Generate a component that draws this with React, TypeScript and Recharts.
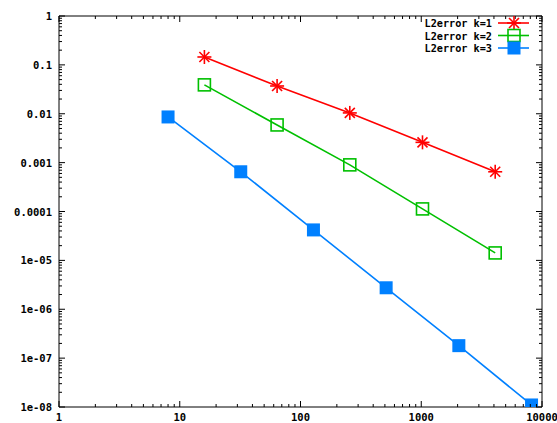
import { LineChart, Line, XAxis, YAxis, ReferenceArea, Legend } from "recharts"

const seriesNames = ["L2error k=1", "L2error k=2", "L2error k=3"]
const seriesColors = ["#ff0000", "#00c000", "#0080ff"]

const k1N = [16, 64, 256, 1024, 4096]
const k1Err = [0.145, 0.037, 0.0104, 0.0026, 0.00065]
const k2N = [16, 64, 256, 1024, 4096]
const k2Err = [0.039, 0.0059, 0.0009, 0.000113, 0.0000142]
const k3N = [8, 32, 128, 512, 2048, 8192]
const k3Err = [0.0086, 0.00065, 0.000042, 0.00000275, 0.00000018, 0.000000011]

const xTickValues = [1, 10, 100, 1000, 10000]
const xTickLabels = ["1", "10", "100", "1000", "10000"]
const yTickValues = [1e-8, 1e-7, 1e-6, 1e-5, 1e-4, 1e-3, 1e-2, 1e-1, 1]
const yTickLabels = ["1e-08", "1e-07", "1e-06", "1e-05", "0.0001", "0.001", "0.01", "0.1", "1"]

const FONT = "'DejaVu Sans Mono', monospace"
const PLOT = { left: 59, right: 542, top: 16, bottom: 407 }

const toRows = (xs: number[], ys: number[]) => xs.map((x, i) => ({ x, y: ys[i] }))
const series = [toRows(k1N, k1Err), toRows(k2N, k2Err), toRows(k3N, k3Err)]

// minor ticks at 2..9 within each decade
const minors = (majors: number[]) =>
  majors.slice(0, -1).flatMap((m) => [2, 3, 4, 5, 6, 7, 8, 9].map((k) => m * k))

function Marker({ cx, cy, kind, color }: { cx: number; cy: number; kind: number; color: string }) {
  if (cx == null || cy == null) return null
  if (kind === 0) {
    const r = 7
    const d = 5
    return (
      <g stroke={color} strokeWidth={1.6}>
        <line x1={cx - r} x2={cx + r} y1={cy} y2={cy} />
        <line x1={cx} x2={cx} y1={cy - r} y2={cy + r} />
        <line x1={cx - d} x2={cx + d} y1={cy - d} y2={cy + d} />
        <line x1={cx - d} x2={cx + d} y1={cy + d} y2={cy - d} />
      </g>
    )
  }
  if (kind === 1) {
    return <rect x={cx - 6} y={cy - 6} width={12} height={12} fill="#fff" fillOpacity={0} stroke={color} strokeWidth={1.6} />
  }
  return <rect x={cx - 6.5} y={cy - 6.5} width={13} height={13} fill={color} />
}

function XTick(props: any) {
  const { x, payload } = props
  const idx = xTickValues.indexOf(payload.value)
  const len = idx >= 0 ? 6 : 3
  return (
    <g>
      <line x1={x} x2={x} y1={PLOT.bottom} y2={PLOT.bottom - len} stroke="#000" />
      <line x1={x} x2={x} y1={PLOT.top} y2={PLOT.top + len} stroke="#000" />
      {idx >= 0 && (
        <text x={x} y={PLOT.bottom + 14} textAnchor="middle" fontFamily={FONT} fontWeight="bold" fontSize={10.5} fill="#000">
          {xTickLabels[idx]}
        </text>
      )}
    </g>
  )
}

function YTick(props: any) {
  const { y, payload } = props
  const idx = yTickValues.indexOf(payload.value)
  const len = idx >= 0 ? 6 : 3
  return (
    <g>
      <line x1={PLOT.left} x2={PLOT.left + len} y1={y} y2={y} stroke="#000" />
      <line x1={PLOT.right} x2={PLOT.right - len} y1={y} y2={y} stroke="#000" />
      {idx >= 0 && (
        <text x={PLOT.left - 7} y={y} dy={4} textAnchor="end" fontFamily={FONT} fontWeight="bold" fontSize={10.5} fill="#000">
          {yTickLabels[idx]}
        </text>
      )}
    </g>
  )
}

function LegendBox() {
  return (
    <svg width={150} height={44}>
      {seriesNames.map((name, i) => {
        const y = 7 + i * 12.5
        return (
          <g key={name}>
            <text x={92} y={y} dy={4} textAnchor="end" fontFamily={FONT} fontWeight="bold" fontSize={10.2} fill="#000">
              {name}
            </text>
            <line x1={98} x2={129} y1={y} y2={y} stroke={seriesColors[i]} strokeWidth={1.6} />
            <Marker cx={114} cy={y} kind={i} color={seriesColors[i]} />
          </g>
        )
      })}
    </svg>
  )
}

export default function App() {
  return (
    <div style={{ position: "absolute", left: 0, top: 0, background: "#fff" }}>
      <LineChart width={557} height={423} margin={{ top: 16, right: 15, left: 0, bottom: 0 }}>
        <XAxis
          dataKey="x"
          type="number"
          scale="log"
          domain={[1, 10000]}
          allowDataOverflow
          ticks={[...xTickValues, ...minors(xTickValues)]}
          interval={0}
          axisLine={false}
          tickLine={false}
          height={16}
          tick={(p: any) => <XTick {...p} />}
        />
        <YAxis
          dataKey="y"
          type="number"
          scale="log"
          domain={[1e-8, 1]}
          allowDataOverflow
          ticks={[...yTickValues, ...minors(yTickValues)]}
          interval={0}
          axisLine={false}
          tickLine={false}
          width={59}
          tick={(p: any) => <YTick {...p} />}
        />
        <ReferenceArea x1={1} x2={10000} y1={1e-8} y2={1} fill="none" stroke="#000" strokeWidth={1} ifOverflow="visible" />
        {series.map((rows, i) => (
          <Line
            key={seriesNames[i]}
            data={rows}
            dataKey="y"
            name={seriesNames[i]}
            stroke={seriesColors[i]}
            strokeWidth={1.6}
            isAnimationActive={false}
            dot={(p: any) => <Marker key={`${i}-${p.index}`} cx={p.cx} cy={p.cy} kind={i} color={seriesColors[i]} />}
            activeDot={false}
          />
        ))}
        <Legend
          layout="horizontal"
          verticalAlign="middle"
          align="center"
          wrapperStyle={{ top: 16, left: 400, width: 150, height: 44 }}
          content={() => <LegendBox />}
        />
      </LineChart>
    </div>
  )
}
